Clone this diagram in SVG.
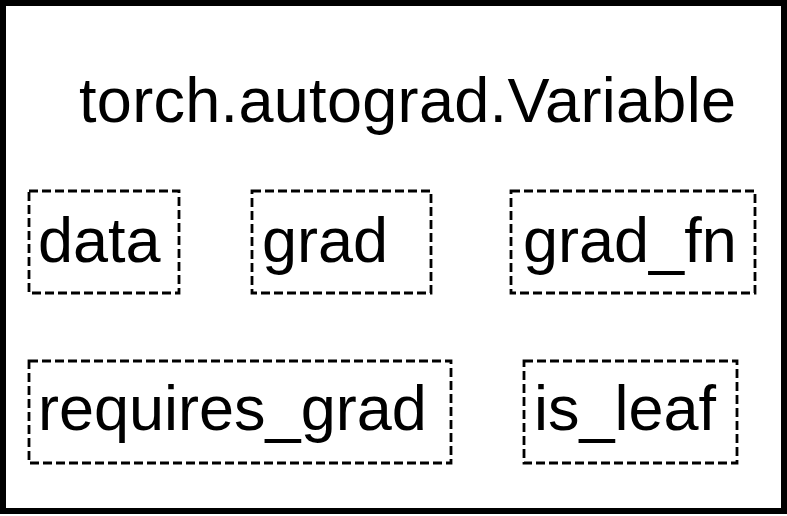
<svg xmlns="http://www.w3.org/2000/svg" width="787" height="516" viewBox="0 0 787 516">
  <style>
    .frame { fill: #ffffff; stroke: #000000; stroke-width: 6; }
    .field { fill: none; stroke: #000000; stroke-width: 2.8; stroke-dasharray: 9 4; }
    .label { font-family: "Liberation Sans", Arial, Helvetica, sans-serif; font-size: 63px; fill: #000000; }
  </style>
  <rect width="787" height="516" fill="#ffffff"/>
  <g id="variable">
    <rect class="frame" x="3" y="3" width="781" height="508"/>
    <text class="label" x="79" y="122" textLength="657" lengthAdjust="spacing">torch.autograd.Variable</text>
  </g>
  <g id="data">
    <rect class="field" x="29" y="191" width="150" height="102"/>
    <text class="label" x="38" y="262">data</text>
  </g>
  <g id="grad">
    <rect class="field" x="252" y="191" width="179" height="102"/>
    <text class="label" x="262" y="262">grad</text>
  </g>
  <g id="grad_fn">
    <rect class="field" x="511" y="191" width="244" height="102"/>
    <text class="label" x="523" y="262">grad_fn</text>
  </g>
  <g id="requires_grad">
    <rect class="field" x="29" y="361" width="422" height="102"/>
    <text class="label" x="38" y="430">requires_grad</text>
  </g>
  <g id="is_leaf">
    <rect class="field" x="524" y="361" width="213" height="102"/>
    <text class="label" x="534" y="430">is_leaf</text>
  </g>
  <g id="connectors"/>
</svg>
